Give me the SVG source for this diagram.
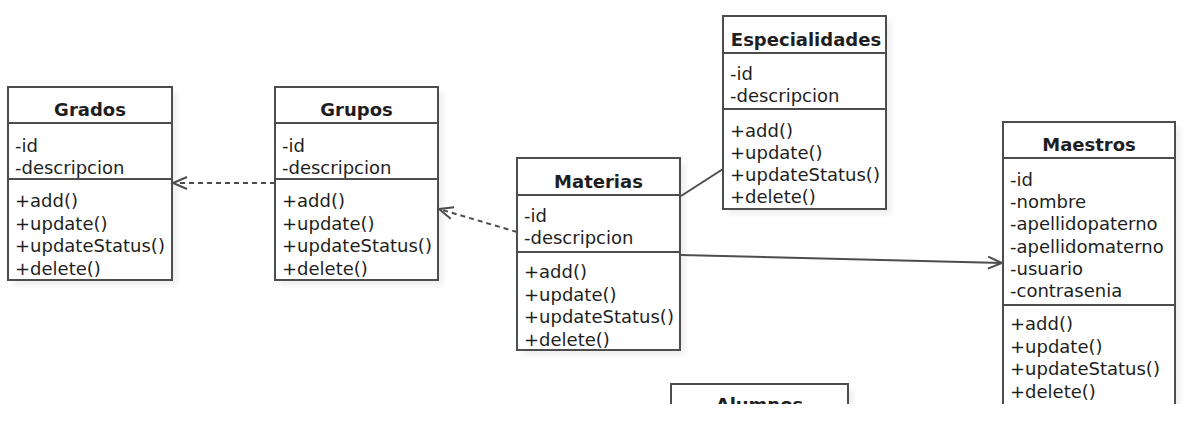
<svg xmlns="http://www.w3.org/2000/svg" width="1192" height="438" viewBox="0 0 1192 438">
  <style>
    .box { fill: #ffffff; stroke: #4d4d4d; stroke-width: 2; }
    .shadow { fill: #000000; opacity: 0.07; }
    .sep { stroke: #4d4d4d; stroke-width: 2; }
    .title { font-family: "DejaVu Sans", "Liberation Sans", sans-serif; font-size: 18px; font-weight: bold; fill: #1e1e1e; text-anchor: middle; }
    .item { font-family: "DejaVu Sans", "Liberation Sans", sans-serif; font-size: 18px; fill: #1e1e1e; }
    .conn { fill: none; stroke: #4d4d4d; stroke-width: 2; }
    .dash { stroke-dasharray: 5 4; }
  </style>
  <defs>
    <marker id="open" markerUnits="userSpaceOnUse" markerWidth="20" markerHeight="20" refX="15" refY="7" orient="auto">
      <path d="M1,1 L15,7 L1,13" fill="none" stroke="#4d4d4d" stroke-width="2"/>
    </marker>
    <clipPath id="cut">
      <rect x="0" y="0" width="1192" height="404"/>
    </clipPath>
    <filter id="blur" x="-10%" y="-10%" width="130%" height="130%">
      <feGaussianBlur stdDeviation="3"/>
    </filter>
  </defs>
  <rect x="0" y="0" width="1192" height="438" fill="#ffffff"/>
  <g clip-path="url(#cut)">
    <g id="Grados">
      <rect class="shadow" x="13" y="92" width="164" height="193" filter="url(#blur)"/>
      <rect class="box" x="8" y="87" width="164" height="193"/>
      <line class="sep" x1="8" y1="123" x2="172" y2="123"/>
      <line class="sep" x1="8" y1="179" x2="172" y2="179"/>
      <text class="title" x="90" y="116">Grados</text>
      <text class="item" x="15" y="152">-id</text>
      <text class="item" x="15" y="174">-descripcion</text>
      <text class="item" x="15" y="207">+add()</text>
      <text class="item" x="15" y="229.5">+update()</text>
      <text class="item" x="15" y="252">+updateStatus()</text>
      <text class="item" x="15" y="274.5">+delete()</text>
    </g>
    <g id="Grupos">
      <rect class="shadow" x="280" y="92" width="163" height="193" filter="url(#blur)"/>
      <rect class="box" x="275" y="87" width="163" height="193"/>
      <line class="sep" x1="275" y1="123" x2="438" y2="123"/>
      <line class="sep" x1="275" y1="179" x2="438" y2="179"/>
      <text class="title" x="356.5" y="116">Grupos</text>
      <text class="item" x="282" y="152">-id</text>
      <text class="item" x="282" y="174">-descripcion</text>
      <text class="item" x="282" y="207">+add()</text>
      <text class="item" x="282" y="229.5">+update()</text>
      <text class="item" x="282" y="252">+updateStatus()</text>
      <text class="item" x="282" y="274.5">+delete()</text>
    </g>
    <g id="Materias">
      <rect class="shadow" x="522" y="163" width="163" height="192" filter="url(#blur)"/>
      <rect class="box" x="517" y="158" width="163" height="192"/>
      <line class="sep" x1="517" y1="195" x2="680" y2="195"/>
      <line class="sep" x1="517" y1="252" x2="680" y2="252"/>
      <text class="title" x="598.5" y="188">Materias</text>
      <text class="item" x="524" y="222">-id</text>
      <text class="item" x="524" y="244">-descripcion</text>
      <text class="item" x="524" y="278">+add()</text>
      <text class="item" x="524" y="300.5">+update()</text>
      <text class="item" x="524" y="323">+updateStatus()</text>
      <text class="item" x="524" y="345.5">+delete()</text>
    </g>
    <g id="Especialidades">
      <rect class="shadow" x="728" y="21" width="163" height="193" filter="url(#blur)"/>
      <rect class="box" x="723" y="16" width="163" height="193"/>
      <line class="sep" x1="723" y1="53" x2="886" y2="53"/>
      <line class="sep" x1="723" y1="109" x2="886" y2="109"/>
      <text class="title" x="806" y="46">Especialidades</text>
      <text class="item" x="730" y="80">-id</text>
      <text class="item" x="730" y="102">-descripcion</text>
      <text class="item" x="730" y="137">+add()</text>
      <text class="item" x="730" y="159">+update()</text>
      <text class="item" x="730" y="181">+updateStatus()</text>
      <text class="item" x="730" y="203">+delete()</text>
    </g>
    <g id="Maestros">
      <rect class="shadow" x="1008" y="127" width="172" height="300" filter="url(#blur)"/>
      <rect class="box" x="1003" y="122" width="172" height="300"/>
      <line class="sep" x1="1003" y1="158" x2="1175" y2="158"/>
      <line class="sep" x1="1003" y1="305" x2="1175" y2="305"/>
      <text class="title" x="1089" y="151">Maestros</text>
      <text class="item" x="1010" y="186">-id</text>
      <text class="item" x="1010" y="208">-nombre</text>
      <text class="item" x="1010" y="230">-apellidopaterno</text>
      <text class="item" x="1010" y="252.5">-apellidomaterno</text>
      <text class="item" x="1010" y="275">-usuario</text>
      <text class="item" x="1010" y="297">-contrasenia</text>
      <text class="item" x="1010" y="330">+add()</text>
      <text class="item" x="1010" y="352.5">+update()</text>
      <text class="item" x="1010" y="375">+updateStatus()</text>
      <text class="item" x="1010" y="397.5">+delete()</text>
    </g>
    <g id="Alumnos">
      <rect class="shadow" x="676" y="389" width="177" height="60" filter="url(#blur)"/>
      <rect class="box" x="671" y="384" width="177" height="60"/>
      <text class="title" x="759.5" y="411">Alumnos</text>
    </g>
    <g id="connectors">
      <line class="conn dash" x1="275" y1="183" x2="173" y2="183" marker-end="url(#open)"/>
      <line class="conn dash" x1="517" y1="232" x2="439" y2="209" marker-end="url(#open)"/>
      <line class="conn" x1="681" y1="196" x2="723" y2="169"/>
      <line class="conn" x1="681" y1="255" x2="1002" y2="263" marker-end="url(#open)"/>
    </g>
  </g>
</svg>
